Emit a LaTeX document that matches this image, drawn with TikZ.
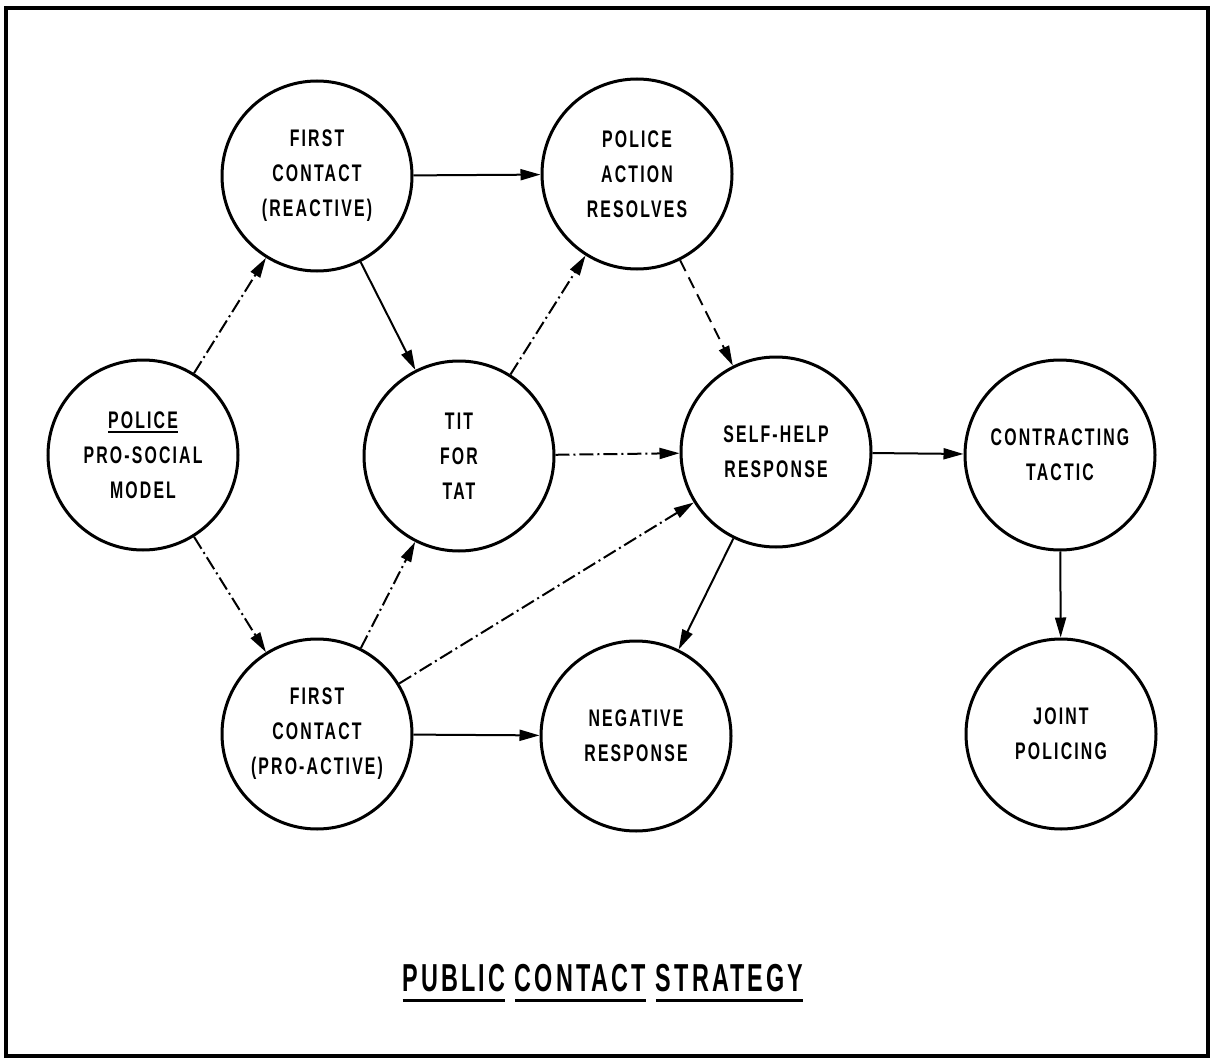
\documentclass[tikz,border=0pt]{standalone}
\usepackage{fontspec}
\newfontfamily\lett[FakeStretch=0.66,LetterSpace=9]{Liberation Sans}
\newfontfamily\titlef[FakeStretch=0.6,LetterSpace=8]{Liberation Sans}
\usetikzlibrary{arrows.meta}
\newcommand\ulbox[3]{\setbox0\hbox{#3}\rlap{\rule[#1]{\wd0}{#2}}\box0\relax}
\begin{document}
\begin{tikzpicture}[x=1pt,y=-1pt,
  st/.style={circle,draw,line width=3pt,minimum size=190pt,inner sep=0pt,align=center,
    font=\lett\bfseries\fontsize{24}{35}\selectfont},
  con/.style={line width=2pt,-{Triangle[length=20pt,width=11pt]}},
  dd/.style={dash pattern=on 14pt off 4pt on 2pt off 4pt},
  ds/.style={dash pattern=on 12pt off 7pt}]
\useasboundingbox (0,0) rectangle (1219,1062);
\draw[line width=3.5pt] (6,8) rectangle (1208,1056);

\node[st] (psm) at (143,455) {\ulbox{-5pt}{2pt}{POLICE}\\PRO-SOCIAL\\MODEL};
\node[st] (fcr) at (317,176) {FIRST\\CONTACT\\(REACTIVE)};
\node[st] (par) at (637,174) {POLICE\\ACTION\\RESOLVES};
\node[st] (tft) at (459,456) {TIT\\FOR\\TAT};
\node[st] (shr) at (776,452) {SELF-HELP\\RESPONSE};
\node[st] (ct)  at (1060,455) {CONTRACTING\\TACTIC};
\node[st] (fcp) at (317,734) {FIRST\\CONTACT\\(PRO-ACTIVE)};
\node[st] (nr)  at (636,736) {NEGATIVE\\RESPONSE};
\node[st] (jp)  at (1061,734) {JOINT\\POLICING};

\draw[con,dd] (psm) -- (fcr);
\draw[con] (fcr) -- (par);
\draw[con] (fcr) -- (tft);
\draw[con,dd] (tft) -- (par);
\draw[con,dd] (tft) -- (shr);
\draw[con,ds] (par) -- (shr);
\draw[con,dd] (psm) -- (fcp);
\draw[con,dd] (fcp) -- (tft);
\draw[con,dd] (fcp) -- (shr);
\draw[con] (fcp) -- (nr);
\draw[con] (shr) -- (nr);
\draw[con] (shr) -- (ct);
\draw[con] (ct) -- (jp);

\node[font=\titlef\bfseries\fontsize{39}{40}\selectfont] (title) at (603,983)
  {\ulbox{-10pt}{3pt}{PUBLIC} \ulbox{-10pt}{3pt}{CONTACT} \ulbox{-10pt}{3pt}{STRATEGY}};
\end{tikzpicture}
\end{document}
